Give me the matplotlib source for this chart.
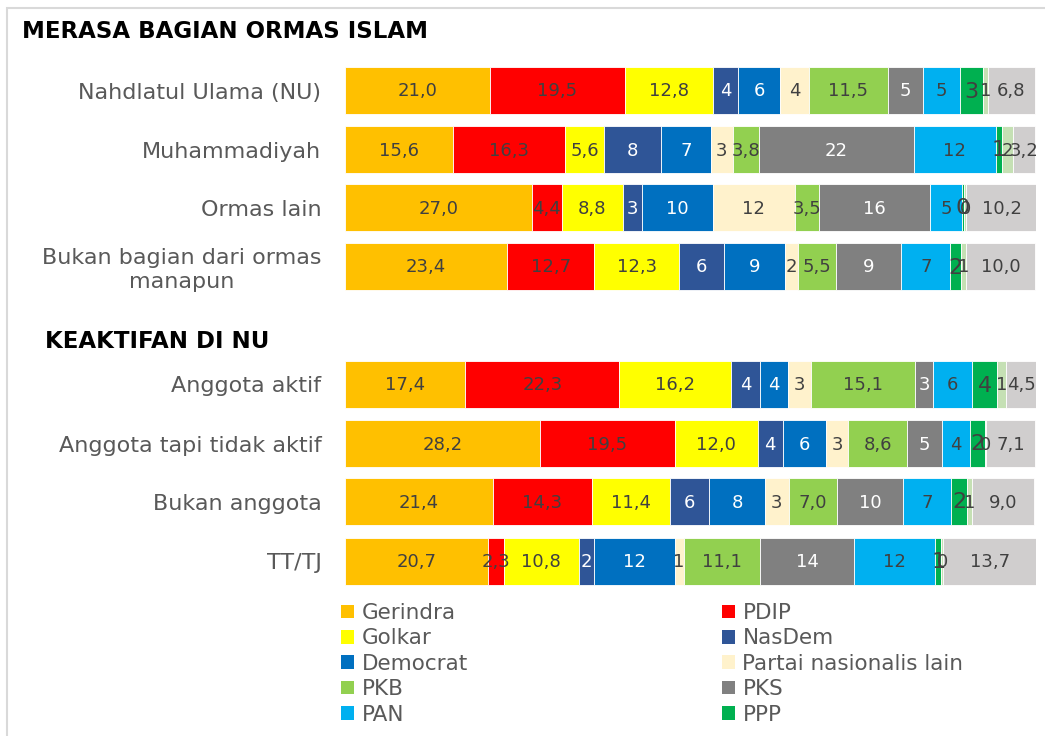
import numpy as np
import matplotlib
matplotlib.use("Agg")
import matplotlib.pyplot as plt
from matplotlib.patches import Patch, Rectangle

# data (percent)
parties = ["Gerindra", "PDIP", "Golkar", "NasDem", "Democrat",
           "Partai nasionalis lain", "PKB", "PKS", "PAN", "PPP",
           "Partai Islam lain", "TT/TJ"]
colors = ["#FFC000", "#FF0000", "#FFFF00", "#2F5597", "#0070C0",
          "#FFF2CC", "#92D050", "#808080", "#00B0F0", "#00B050",
          "#C5E0B4", "#D0CECE"]
# series printed with one decimal, the rest as integers
decimal_series = ["Gerindra", "PDIP", "Golkar", "PKB", "TT/TJ"]
white_label_series = ["NasDem", "Democrat", "PKS"]

categories = ["Nahdlatul Ulama (NU)", "Muhammadiyah", "Ormas lain",
              "Bukan bagian dari ormas\nmanapun",
              "Anggota aktif", "Anggota tapi tidak aktif",
              "Bukan anggota", "TT/TJ"]

gerindra = [21.0, 15.6, 27.0, 23.4, 17.4, 28.2, 21.4, 20.7]
pdip     = [19.5, 16.3, 4.4, 12.7, 22.3, 19.5, 14.3, 2.3]
golkar   = [12.8, 5.6, 8.8, 12.3, 16.2, 12.0, 11.4, 10.8]
nasdem   = [3.6, 8.3, 2.8, 6.4, 4.2, 3.7, 5.6, 2.3]
democrat = [6.1, 7.1, 10.2, 8.9, 4.0, 6.2, 8.1, 11.6]
nas_lain = [4.1, 3.2, 11.9, 1.9, 3.3, 3.2, 3.4, 1.3]
pkb      = [11.5, 3.8, 3.5, 5.5, 15.1, 8.6, 7.0, 11.1]
pks      = [5.1, 22.4, 16.0, 9.4, 2.6, 5.0, 9.6, 13.6]
pan      = [5.3, 11.9, 4.7, 7.1, 5.7, 4.0, 6.9, 11.7]
ppp      = [3.4, 0.9, 0.3, 1.6, 3.6, 2.2, 2.3, 0.9]
isl_lain = [0.6, 1.6, 0.3, 0.7, 1.3, 0.2, 0.7, 0.2]
tttj     = [6.8, 3.2, 10.2, 10.0, 4.5, 7.1, 9.0, 13.7]

series = [gerindra, pdip, golkar, nasdem, democrat, nas_lain,
          pkb, pks, pan, ppp, isl_lain, tttj]

# layout (figure pixels)
W, H = 1045, 736
row_y = [90.5, 149.5, 207.5, 266.5, 384.5, 443.5, 501.5, 561.0]
bar_h = 47
txt_grey = "#595959"
lbl_dark = "#404040"

fig = plt.figure(figsize=(W / 100, H / 100), dpi=100)
ax = fig.add_axes([345 / W, 0, (1036 - 345) / W, 1])
ax.set_xlim(0, 100)
ax.set_ylim(H, 0)

left = np.zeros(len(categories))
for name, vals, col in zip(parties, series, colors):
    vals = np.array(vals)
    ax.barh(row_y, vals, left=left, height=bar_h, color=col,
            edgecolor="white", linewidth=0.6)
    for y, l, v in zip(row_y, left, vals):
        if name in decimal_series:
            s = f"{v:.1f}".replace(".", ",")
        else:
            s = f"{v:.0f}"
        c = "white" if name in white_label_series else lbl_dark
        fs = 16 if name == "PPP" else 13
        ax.text(l + v / 2, y + 1, s, ha="center", va="center",
                fontsize=fs, color=c)
    left += vals

ax.set_yticks(row_y)
ax.set_yticklabels(categories, fontsize=16, color=txt_grey,
                   multialignment="center", linespacing=1.25)
ax.tick_params(axis="y", length=0, pad=17)
ax.tick_params(axis="x", bottom=False, labelbottom=False)
for sp in ax.spines.values():
    sp.set_visible(False)

# section headings
fig.text(22 / W, 1 - 31 / H, "MERASA BAGIAN ORMAS ISLAM", fontsize=16.5,
         fontweight="bold", color="black", va="center", ha="left")
fig.text(45 / W, 1 - 341 / H, "KEAKTIFAN DI NU", fontsize=16.5,
         fontweight="bold", color="black", va="center", ha="left")

# legend, two columns filled row by row
left_col = [0, 2, 4, 6, 8]
right_col = [1, 3, 5, 7, 9]
for idx, x0 in [(left_col, 341), (right_col, 722)]:
    handles = [Patch(facecolor=colors[i], edgecolor="none") for i in idx]
    labels = [parties[i] for i in idx]
    leg = fig.legend(handles, labels, loc="upper left",
                     bbox_to_anchor=(x0 / W, 1 - 603 / H),
                     frameon=False, fontsize=15.5, borderpad=0,
                     borderaxespad=0, handlelength=0.6, handleheight=0.6,
                     handletextpad=0.35, labelspacing=0.25)
    for t in leg.get_texts():
        t.set_color(txt_grey)

# light frame
fig.patches.append(Rectangle((7 / W, -0.1), 1.2, 1 - 8 / H + 0.1,
                             transform=fig.transFigure, fill=False,
                             edgecolor="#D9D9D9", linewidth=1.5))

fig.savefig("out.png", dpi=100)
